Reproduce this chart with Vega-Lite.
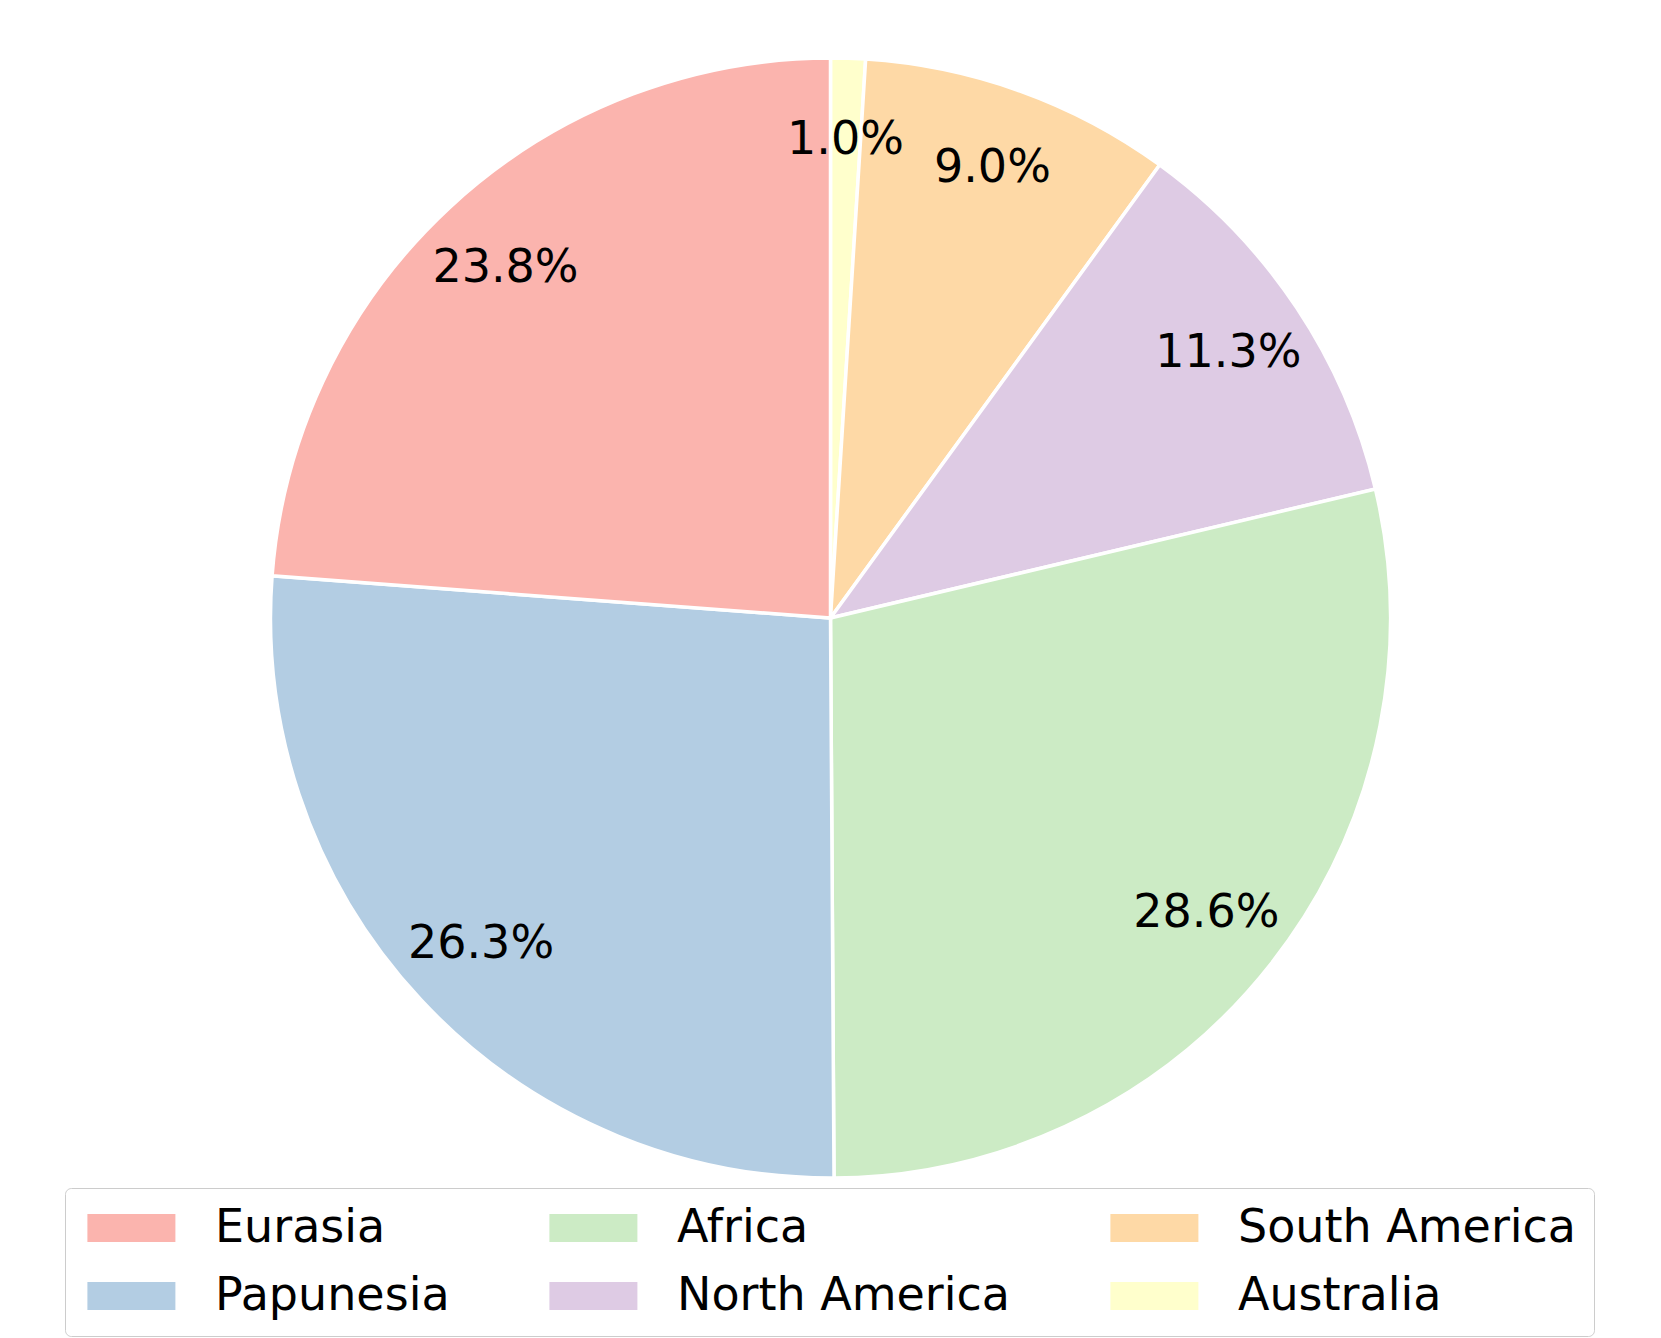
{
  "$schema": "https://vega.github.io/schema/vega-lite/v6.json",
  "width": 1661,
  "height": 1236,
  "padding": 0,
  "autosize": {"type": "pad"},
  "background": "white",
  "config": {
    "view": {"stroke": null},
    "font": "DejaVu Sans"
  },
  "data": {
    "values": [
      {"continent": "Australia", "pct": 0.010, "idx": 1},
      {"continent": "South America", "pct": 0.090, "idx": 2},
      {"continent": "North America", "pct": 0.113, "idx": 3},
      {"continent": "Africa", "pct": 0.286, "idx": 4},
      {"continent": "Papunesia", "pct": 0.263, "idx": 5},
      {"continent": "Eurasia", "pct": 0.238, "idx": 6}
    ]
  },
  "encoding": {
    "theta": {"field": "pct", "type": "quantitative", "stack": true},
    "order": {"field": "idx", "type": "quantitative", "sort": "ascending"}
  },
  "layer": [
    {
      "mark": {"type": "arc", "outerRadius": 560, "stroke": "white", "strokeWidth": 3.5},
      "encoding": {
        "color": {
          "field": "continent",
          "type": "nominal",
          "scale": {
            "domain": ["Eurasia", "Papunesia", "Africa", "North America", "South America", "Australia"],
            "range": ["#fbb4ae", "#b3cde3", "#ccebc5", "#decbe4", "#fed9a6", "#ffffcc"]
          },
          "legend": {
            "title": null,
            "orient": "none",
            "legendX": 65,
            "legendY": 1188,
            "columns": 3,
            "columnPadding": 94,
            "rowPadding": 22,
            "padding": 17,
            "symbolType": "M-0.8,-0.636H3.2V0.636H-0.8Z",
            "symbolSize": 1936,
            "symbolStrokeWidth": 0,
            "labelFontSize": 46,
            "labelFont": "DejaVu Sans",
            "labelColor": "black",
            "labelOffset": 87,
            "labelLimit": 1000,
            "strokeColor": "#cccccc",
            "fillColor": "white",
            "cornerRadius": 6,
            "encode": {"legend": {"update": {"strokeWidth": {"value": 3}, "stroke": {"value": "#cccccc"}}}}
          }
        }
      }
    },
    {
      "mark": {"type": "text", "radius": 478, "fontSize": 46, "font": "DejaVu Sans", "color": "black", "align": "center", "baseline": "middle"},
      "encoding": {
        "detail": {"field": "continent", "type": "nominal"},
        "text": {"field": "pct", "type": "quantitative", "format": ".1%"}
      }
    }
  ]
}
